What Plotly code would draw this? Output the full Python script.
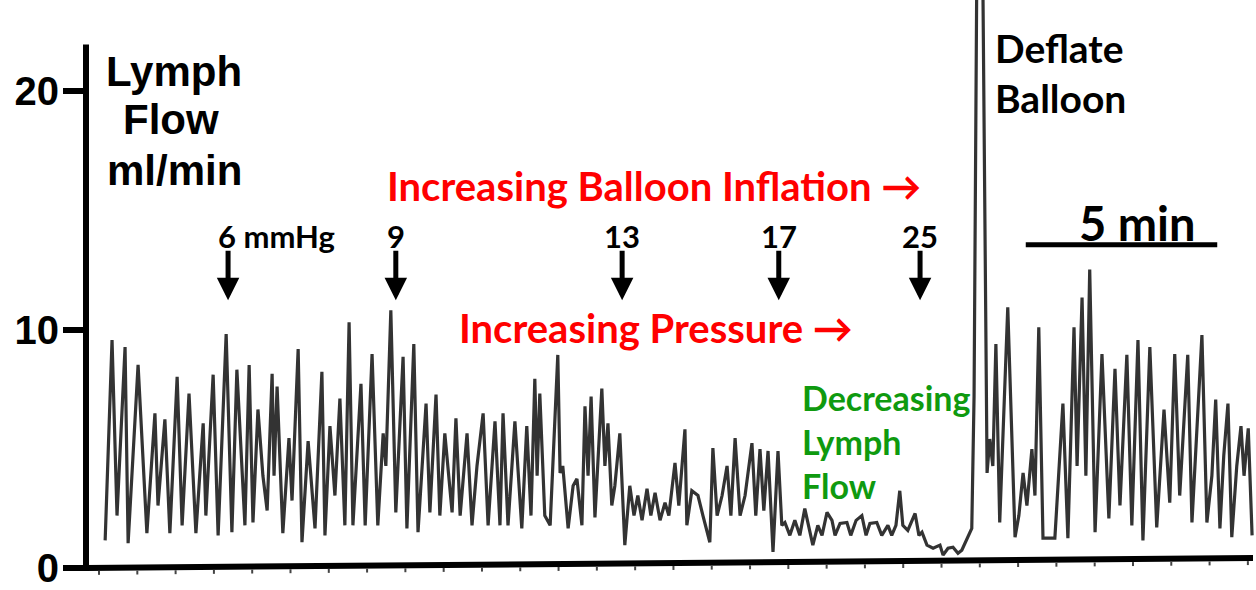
import plotly.graph_objects as go

# ---------------- data ----------------
time_min = [
    0.16, 0.34, 0.47, 0.68, 0.76, 1.02, 1.25, 1.46, 1.54, 1.72, 1.85, 2.04, 2.17, 2.35, 2.53,
    2.72, 2.79, 2.98, 3.11, 3.32, 3.47, 3.60, 3.81, 3.92, 4.02, 4.15, 4.28, 4.39, 4.52, 4.57,
    4.65, 4.80, 4.96, 5.04, 5.20, 5.30, 5.46, 5.64, 5.82, 5.90, 6.03, 6.16,
    6.29, 6.42, 6.53, 6.63, 6.84, 6.95, 7.13, 7.28, 7.42, 7.49, 7.62, 7.75, 7.94, 8.04, 8.22,
    8.33, 8.54, 8.64, 8.80, 8.90, 9.03, 9.22, 9.32, 9.43, 9.61, 9.74, 9.87, 10.03, 10.16, 10.34,
    10.47, 10.55, 10.68, 10.86, 11.04, 11.17, 11.28, 11.38, 11.44, 11.51, 11.64, 11.78,
    11.98, 12.04, 12.11, 12.25, 12.38, 12.48, 12.61, 12.69, 12.77, 12.85, 12.95, 13.13, 13.21,
    13.29, 13.39, 13.47, 13.60, 13.73, 13.86, 13.97, 14.07, 14.18, 14.31, 14.41, 14.52, 14.65,
    14.78, 14.88, 15.04, 15.14, 15.30, 15.35, 15.48, 15.64, 15.77, 15.95, 16.03, 16.14, 16.27,
    16.40, 16.50, 16.61, 16.74, 16.87, 17.05, 17.15, 17.26, 17.36, 17.47, 17.60, 17.73, 17.83,
    17.91, 18.04, 18.17, 18.30, 18.43, 18.56, 18.64, 18.77, 18.88, 19.01, 19.14, 19.22, 19.35,
    19.53, 19.63, 19.77, 19.92, 20.03, 20.13, 20.31, 20.44, 20.60, 20.70, 20.81, 20.91, 20.99,
    21.12, 21.31, 21.41, 21.49, 21.62, 21.78, 21.96, 22.04, 22.17, 22.30, 22.43, 22.53, 22.69,
    22.79, 22.85, 22.92, 23.08,
    23.19, 23.26, 23.34, 23.42, 23.52, 23.73, 23.92, 24.02, 24.13, 24.23, 24.36, 24.44, 24.54,
    24.65, 24.96, 25.17, 25.30, 25.46, 25.54, 25.67, 25.77, 25.87, 26.01, 26.19, 26.37,
    26.53, 26.66, 26.84, 26.97, 27.13, 27.26, 27.44, 27.62, 27.81, 27.96, 28.09, 28.22, 28.43,
    28.54, 28.80, 28.93, 29.06, 29.16, 29.27, 29.37, 29.48, 29.58, 29.71, 29.82, 29.90, 30.01,
    30.11,
]
flow_ml_min = [
    1.16, 9.56, 2.20, 9.27, 1.04, 8.52, 1.46, 6.49, 2.62, 6.24, 1.46, 8.02, 1.79, 7.32, 1.46,
    6.07, 2.20, 8.11, 1.37, 9.81, 1.50, 8.32, 1.79, 8.52, 1.91, 6.65, 3.87, 2.41, 8.15, 3.87,
    7.61, 1.46, 5.45, 2.83, 9.19, 1.08, 5.32, 1.66, 8.23, 1.37, 5.95, 3.04,
    7.11, 1.79, 10.31, 1.79, 7.73, 1.79, 8.98, 1.79, 5.65, 4.28, 10.81, 2.33, 8.86, 1.66, 9.40,
    1.50, 6.90, 2.33, 7.28, 2.20, 5.65, 2.33, 6.28, 2.20, 5.65, 1.79, 4.28, 6.49, 1.79, 6.15,
    1.79, 6.49, 1.79, 6.15, 1.66, 5.95, 2.20, 7.94, 3.87, 7.32, 2.20, 1.79,
    8.94, 3.99, 4.28, 1.66, 3.45, 3.74, 1.79, 6.78, 3.87, 7.19, 2.12, 7.53, 4.28,
    6.07, 2.62, 3.45, 5.65, 0.96, 3.45, 2.20, 3.04, 2.00, 3.33, 2.20, 3.16, 2.00,
    2.74, 2.20, 4.41, 2.62, 5.82, 1.79, 3.24, 3.04, 2.20, 1.08, 5.03, 2.20, 3.04,
    4.28, 2.20, 5.45, 2.20, 3.04, 5.24, 2.20, 4.99, 2.41, 4.91, 0.67, 4.91, 1.79,
    1.91, 1.37, 2.00, 1.37, 2.49, 1.58, 0.96, 1.79, 1.37, 2.33, 2.00, 1.37, 1.87,
    1.91, 1.37, 2.00, 2.20, 1.37, 1.87, 1.91, 1.37, 1.79, 1.37, 1.79, 3.24, 1.79,
    1.58, 2.29, 1.37, 1.50, 0.96, 0.83, 0.96, 0.54, 0.83, 0.87, 0.62, 0.75, 1.29,
    1.66, 7.19, 24.6, 24.6,
    3.99, 5.41, 4.28, 9.40, 1.91, 10.94, 1.29, 2.20, 3.99, 2.62, 4.99, 3.04, 10.10,
    1.25, 1.25, 6.90, 1.25, 10.10, 4.28, 11.35, 3.87, 12.52, 1.50, 8.98, 2.08,
    8.36, 2.62, 8.94, 1.79, 9.56, 1.16, 9.27, 1.70, 6.65, 2.74, 8.98, 3.04, 8.94,
    1.91, 9.77, 1.91, 3.87, 7.07, 1.66, 4.70, 6.90, 1.29, 4.28, 5.95, 3.87, 5.86,
    1.37,
]

pressure_labels = ["6 mmHg", "9", "13", "17", "25"]
pressure_times = [3.37, 7.75, 13.66, 17.75, 21.44]

y_ticks = [0, 10, 20]
minute_ticks = list(range(0, 31))
scale_bar_start = 24.2
scale_bar_minutes = 5

# ---------------- layout geometry ----------------
W, H = 1256, 590
ML, MR, MT, MB = 86, 2, 0, 17
PW, PH = W - ML - MR, H - MT - MB
X_RANGE = [-0.34, 30.16]
Y_RANGE = [0, 23.83]


def pxx(x):
    return (x - ML) / PW


def pxy(y):
    return (H - MB - y) / PH


def t_to_px(t):
    return ML + (t - X_RANGE[0]) / (X_RANGE[1] - X_RANGE[0]) * PW


ARIAL = "Liberation Sans, Arial, sans-serif"
CAL = "Lato, Calibri, sans-serif"
RED = "#ff0000"
GREEN = "#0f9a0f"

fig = go.Figure()
fig.add_trace(go.Scatter(
    x=time_min, y=flow_ml_min, mode="lines",
    line=dict(color="#333333", width=3.2),
    hoverinfo="skip", showlegend=False,
))

shapes = []
# y axis line
shapes.append(dict(type="line", xref="paper", yref="paper", x0=0, x1=0,
                   y0=pxy(576), y1=pxy(45), line=dict(color="black", width=6)))
# slightly tilted baseline (as in the scanned record)
shapes.append(dict(type="line", xref="paper", yref="paper", x0=0, x1=pxx(1253),
                   y0=pxy(573), y1=pxy(563), line=dict(color="black", width=6)))
# minute ticks under the baseline
for t in minute_ticks:
    xp = t_to_px(t)
    base = 573 - 10 * (xp - ML) / (1253 - ML) + 3
    shapes.append(dict(type="line", xref="x", yref="paper", x0=t, x1=t,
                       y0=pxy(base), y1=pxy(base + 4), line=dict(color="#444", width=2)))
# 5 min scale bar
shapes.append(dict(type="line", xref="x", yref="y", x0=scale_bar_start,
                   x1=scale_bar_start + scale_bar_minutes, y0=13.56, y1=13.56,
                   line=dict(color="black", width=5)))

ann = []


def text(s, x, y, size, family, color="black", xanchor="center"):
    ann.append(dict(text=s, xref="paper", yref="paper", x=pxx(x), y=pxy(y),
                    xanchor=xanchor, yanchor="middle", showarrow=False,
                    font=dict(family=family, size=size, color=color, weight="bold")))


text("Lymph", 174, 72, 42, ARIAL)
text("Flow", 171, 121, 42, ARIAL)
text("ml/min", 174, 172, 42, ARIAL)
text("Deflate", 993, 48, 39, CAL, xanchor="left")
text("Balloon", 993, 99, 39, CAL, xanchor="left")
text("Increasing Balloon Inflation \u2192", 385, 188, 40, CAL, RED, xanchor="left")
text("Increasing Pressure \u2192", 457, 331, 40, CAL, RED, xanchor="left")
text("Decreasing", 800, 401, 34, CAL, GREEN, xanchor="left")
text("Lymph", 800, 445, 34, CAL, GREEN, xanchor="left")
text("Flow", 800, 490, 34, CAL, GREEN, xanchor="left")
text("5 min", 1137, 225, 47, CAL)

for lab, t in zip(pressure_labels, pressure_times):
    if lab.endswith("mmHg"):
        ann.append(dict(text=lab, xref="x", yref="paper", x=t, y=pxy(238), xanchor="left",
                        xshift=-12, yanchor="middle", showarrow=False,
                        font=dict(family=CAL, size=31, color="black", weight="bold")))
    else:
        ann.append(dict(text=lab, xref="x", yref="paper", x=t, y=pxy(238), xanchor="center",
                        yanchor="middle", showarrow=False,
                        font=dict(family=CAL, size=31, color="black", weight="bold")))
    ann.append(dict(text="", xref="x", yref="y", x=t, y=11.23, ax=0, ay=-51,
                    showarrow=True, arrowhead=2, arrowsize=0.9, arrowwidth=5,
                    arrowcolor="black"))

fig.update_layout(
    width=W, height=H,
    margin=dict(l=ML, r=MR, t=MT, b=MB, pad=0),
    paper_bgcolor="white", plot_bgcolor="white",
    shapes=shapes, annotations=ann, showlegend=False,
    xaxis=dict(range=X_RANGE, showgrid=False, zeroline=False, showline=False,
               ticks="", showticklabels=False, fixedrange=True),
    yaxis=dict(range=Y_RANGE, showgrid=False, zeroline=False, showline=False,
               tickmode="array", tickvals=y_ticks, ticktext=[str(v) for v in y_ticks],
               ticks="outside", ticklen=22, tickwidth=6, tickcolor="black",
               ticklabelstandoff=-4, ticklabeloverflow="allow",
               tickfont=dict(family=ARIAL, size=40, color="black", weight="bold"),
               fixedrange=True),
)

fig.write_html("out.html", config={"displayModeBar": False},
               post_script="document.body.style.margin='0px';")
